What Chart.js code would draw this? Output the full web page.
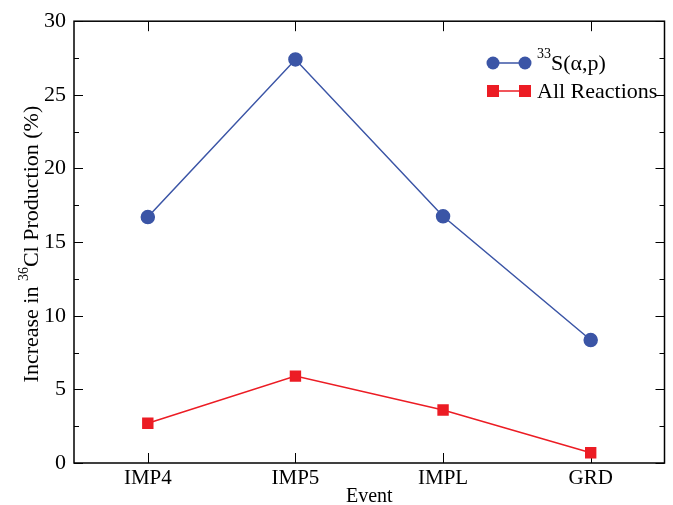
<!DOCTYPE html>
<html>
<head>
<meta charset="utf-8">
<script src="https://cdn.jsdelivr.net/npm/chart.js@4"></script>
<style>
  html, body { margin: 0; padding: 0; background: #fff; }
  #wrap { width: 673px; height: 505px; }
</style>
</head>
<body>
<div id="wrap"><canvas id="chart" width="673" height="505"></canvas></div>
<script>
// data
const events = ['IMP4', 'IMP5', 'IMPL', 'GRD'];
const s33ap = [16.7, 27.4, 16.75, 8.35];
const allReactions = [2.7, 5.9, 3.6, 0.7];
const yTicks = [0, 5, 10, 15, 20, 25, 30];

const BLUE = '#3b55a6';
const RED = '#ec1c24';
const FONT = '"Liberation Serif", "Times New Roman", serif';

// frame, inward ticks on all four sides, y title and legend
const framePlugin = {
    id: 'frame',
    beforeDatasetsDraw(chart) {
        const { ctx, chartArea: a, scales } = chart;
        ctx.save();
        ctx.strokeStyle = '#000';
        ctx.lineWidth = 1.5;
        ctx.strokeRect(a.left, a.top, a.right - a.left, a.bottom - a.top);
        ctx.lineWidth = 1;
        ctx.beginPath();
        for (let v = 0; v <= 30; v += 2.5) {
            const y = Math.round(scales.y.getPixelForValue(v)) + 0.5;
            const len = (v % 5 === 0) ? 9 : 5;
            ctx.moveTo(a.left, y); ctx.lineTo(a.left + len, y);
            ctx.moveTo(a.right, y); ctx.lineTo(a.right - len, y);
        }
        events.forEach((e, i) => {
            const x = Math.round(scales.x.getPixelForValue(i)) + 0.5;
            ctx.moveTo(x, a.bottom); ctx.lineTo(x, a.bottom - 10);
            ctx.moveTo(x, a.top); ctx.lineTo(x, a.top + 10);
        });
        ctx.stroke();
        ctx.restore();
    },
    afterDraw(chart) {
        const { ctx, chartArea: a } = chart;
        // y title with superscript
        ctx.save();
        ctx.fillStyle = '#000';
        ctx.textBaseline = 'alphabetic';
        const big = '22px ' + FONT, small = '14px ' + FONT;
        const p1 = 'Increase in ', sup = '36', p2 = 'Cl Production (%)';
        ctx.font = big; const w1 = ctx.measureText(p1).width, w3 = ctx.measureText(p2).width;
        ctx.font = small; const w2 = ctx.measureText(sup).width;
        const total = w1 + w2 + w3;
        ctx.translate(38, (a.top + a.bottom) / 2 + 2);
        ctx.rotate(-Math.PI / 2);
        let x = -total / 2;
        ctx.font = big; ctx.fillText(p1, x, 0); x += w1;
        ctx.font = small; ctx.fillText(sup, x, -10); x += w2;
        ctx.font = big; ctx.fillText(p2, x, 0);
        ctx.restore();

        // legend: line with marker at both ends
        ctx.save();
        const rows = [
            { ds: chart.data.datasets[0], y: 63, parts: [['33', true], ['S(\u03b1,p)', false]] },
            { ds: chart.data.datasets[1], y: 91, parts: [['All Reactions', false]] }
        ];
        rows.forEach(r => {
            const x0 = 493, x1 = 525;
            ctx.strokeStyle = r.ds.borderColor;
            ctx.lineWidth = 1.5;
            ctx.beginPath(); ctx.moveTo(x0, r.y); ctx.lineTo(x1, r.y); ctx.stroke();
            ctx.fillStyle = r.ds.pointBackgroundColor;
            [x0, x1].forEach(px => {
                if (r.ds.pointStyle === 'rect') {
                    ctx.fillRect(px - 6, r.y - 6, 12, 12);
                } else {
                    ctx.beginPath(); ctx.arc(px, r.y, 6.5, 0, Math.PI * 2); ctx.fill();
                }
            });
            ctx.fillStyle = '#000';
            ctx.textBaseline = 'middle';
            let tx = 537;
            r.parts.forEach(([t, isSup]) => {
                ctx.font = (isSup ? '14px ' : '22px ') + FONT;
                ctx.fillText(t, tx, isSup ? r.y - 9 : r.y + 1);
                tx += ctx.measureText(t).width;
            });
        });
        ctx.restore();
    }
};

new Chart(document.getElementById('chart'), {
    type: 'line',
    data: {
        labels: events,
        datasets: [
            {
                label: '33S(\u03b1,p)',
                data: s33ap,
                borderColor: BLUE,
                backgroundColor: BLUE,
                pointBackgroundColor: BLUE,
                pointBorderColor: BLUE,
                pointStyle: 'circle',
                pointRadius: 6.5,
                borderWidth: 1.5,
                tension: 0
            },
            {
                label: 'All Reactions',
                data: allReactions,
                borderColor: RED,
                backgroundColor: RED,
                pointBackgroundColor: RED,
                pointBorderColor: RED,
                pointStyle: 'rect',
                pointRadius: 7,
                borderWidth: 1.5,
                tension: 0
            }
        ]
    },
    options: {
        responsive: false,
        animation: false,
        layout: { padding: { left: 0, top: 18, right: 8, bottom: 0 } },
        plugins: {
            legend: { display: false },
            tooltip: { enabled: false }
        },
        scales: {
            x: {
                type: 'category',
                offset: true,
                grid: { display: false, drawTicks: false },
                border: { display: false },
                ticks: { color: '#000', font: { family: FONT, size: 21 }, padding: 3 },
                title: { display: true, text: 'Event', color: '#000', font: { family: FONT, size: 20 }, padding: { top: 0, bottom: -4 } },
                afterFit(scale) { scale.height = 42; }
            },
            y: {
                min: 0,
                max: 30,
                grid: { display: false, drawTicks: false },
                border: { display: false },
                ticks: {
                    stepSize: 2.5,
                    color: '#000',
                    font: { family: FONT, size: 22 },
                    padding: 8,
                    callback: v => yTicks.includes(v) ? String(v) : ''
                },
                afterFit(scale) { scale.width = 74; }
            }
        }
    },
    plugins: [framePlugin]
});
</script>
</body>
</html>
